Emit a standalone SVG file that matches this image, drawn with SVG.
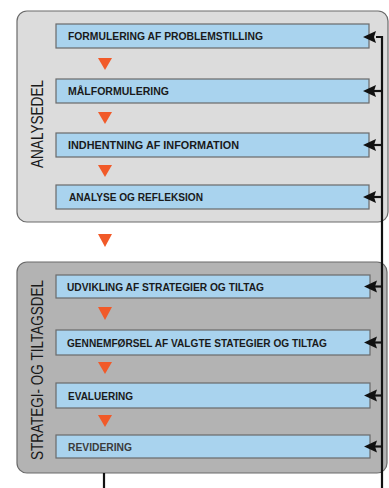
<svg xmlns="http://www.w3.org/2000/svg" width="389" height="488" viewBox="0 0 389 488">
<defs>
<style>
.panel{stroke:#6a6a6a;stroke-width:1.2}
.box{fill:#a9d3ee;stroke:#6a6a6a;stroke-width:1.2}
.lbl{font-family:"Liberation Sans",Arial,sans-serif;font-weight:bold;font-size:10.5px;fill:#1a1a1a}
.side{font-family:"Liberation Sans",Arial,sans-serif;font-size:16px;fill:#1a1a1a}
.tri{fill:#f15a29}
.conn{stroke:#111;stroke-width:2.2;fill:none}
</style>
<marker id="ah" markerWidth="13" markerHeight="12" refX="0" refY="6" orient="auto" markerUnits="userSpaceOnUse">
<path d="M0,6 L13,0 L10,6 L13,12 Z" fill="#111"/>
</marker>
</defs>
<g id="panel-analyse">
<rect class="panel" x="17" y="11" width="371" height="211" rx="10" fill="#dcdcdc"/>
<text class="side" transform="translate(43,168) rotate(-90)" textLength="88" lengthAdjust="spacingAndGlyphs">ANALYSEDEL</text>
</g>
<g id="panel-strategi">
<rect class="panel" x="17" y="262" width="370" height="211" rx="10" fill="#b3b3b3"/>
<text class="side" transform="translate(43,460) rotate(-90)" textLength="180" lengthAdjust="spacingAndGlyphs">STRATEGI- OG TILTAGSDEL</text>
</g>
<g id="n1"><rect class="box" x="56" y="24" width="313" height="24"/><text class="lbl" x="68" y="40" textLength="195" lengthAdjust="spacingAndGlyphs">FORMULERING AF PROBLEMSTILLING</text></g>
<g id="n2"><rect class="box" x="56" y="79" width="313" height="24"/><text class="lbl" x="68" y="95" textLength="101" lengthAdjust="spacingAndGlyphs">MÅLFORMULERING</text></g>
<g id="n3"><rect class="box" x="56" y="133" width="313" height="24"/><text class="lbl" x="68" y="149" textLength="171" lengthAdjust="spacingAndGlyphs">INDHENTNING AF INFORMATION</text></g>
<g id="n4"><rect class="box" x="56" y="185" width="313" height="24"/><text class="lbl" x="69" y="201" textLength="134" lengthAdjust="spacingAndGlyphs">ANALYSE OG REFLEKSION</text></g>
<g id="n5"><rect class="box" x="56" y="275" width="314" height="23"/><text class="lbl" x="67" y="290.5" textLength="197" lengthAdjust="spacingAndGlyphs">UDVIKLING AF STRATEGIER OG TILTAG</text></g>
<g id="n6"><rect class="box" x="56" y="330" width="314" height="25"/><text class="lbl" x="67" y="346.5" textLength="260" lengthAdjust="spacingAndGlyphs">GENNEMFØRSEL AF VALGTE STATEGIER OG TILTAG</text></g>
<g id="n7"><rect class="box" x="56" y="383" width="314" height="25"/><text class="lbl" x="68" y="399.5" textLength="65" lengthAdjust="spacingAndGlyphs">EVALUERING</text></g>
<g id="n8"><rect class="box" x="56" y="435" width="314" height="23"/><text class="lbl" x="68" y="450.5" textLength="64" lengthAdjust="spacingAndGlyphs" style="fill:#3c3c3c">REVIDERING</text></g>
<g id="connectors">
<path class="tri" d="M98,58 L112,58 L105,70 Z"/>
<path class="tri" d="M98,112 L112,112 L105,124 Z"/>
<path class="tri" d="M98,165 L112,165 L105,177 Z"/>
<path class="tri" d="M98,234 L112,234 L105,247 Z"/>
<path class="tri" d="M98,307 L112,307 L105,320 Z"/>
<path class="tri" d="M98,362 L112,362 L105,374 Z"/>
<path class="tri" d="M98,415 L112,415 L105,427 Z"/>
<path class="conn" d="M382,488 L382,37 L376,37"/>
<path class="conn" d="M104,473 L104,488"/>
<g fill="#111">
<path d="M363,37 L376,31 L374,37 L376,43 Z"/>
<path d="M363,91 L376,85 L374,91 L376,97 Z M376,91 L382,91"/>
<path d="M363,145 L376,139 L374,145 L376,151 Z"/>
<path d="M363,197 L376,191 L374,197 L376,203 Z"/>
<path d="M364,286.5 L377,280.5 L375,286.5 L377,292.5 Z"/>
<path d="M364,342.5 L377,336.5 L375,342.5 L377,348.5 Z"/>
<path d="M364,395.5 L377,389.5 L375,395.5 L377,401.5 Z"/>
<path d="M364,446.5 L377,440.5 L375,446.5 L377,452.5 Z"/>
</g>
<g class="conn">
<path d="M374,91 L382,91"/>
<path d="M374,145 L382,145"/>
<path d="M374,197 L382,197"/>
<path d="M375,286.5 L382,286.5"/>
<path d="M375,342.5 L382,342.5"/>
<path d="M375,395.5 L382,395.5"/>
<path d="M375,446.5 L382,446.5"/>
</g>
</g>
</svg>
